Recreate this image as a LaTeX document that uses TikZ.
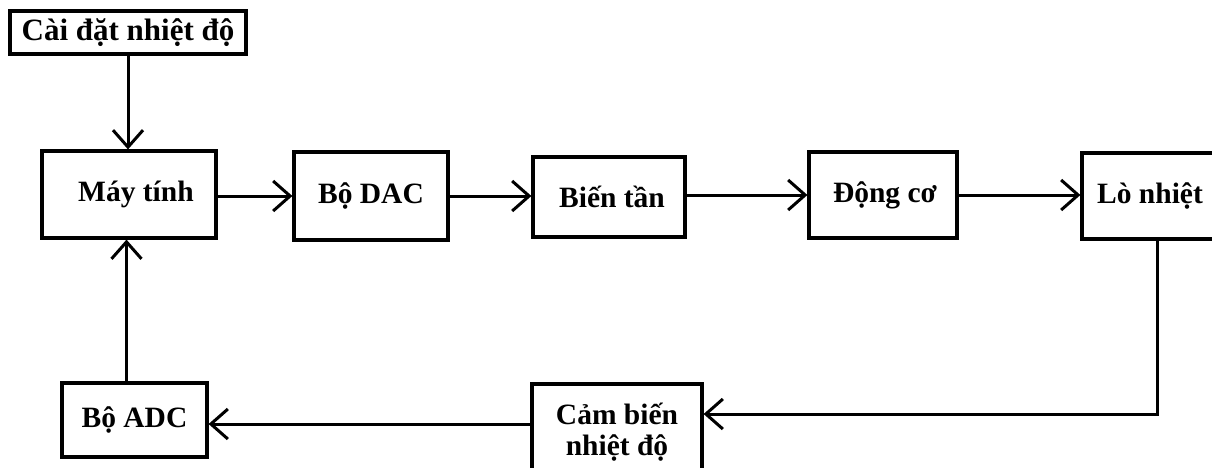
\documentclass[tikz,border=0pt]{standalone}
\usepackage{fontspec}
\setmainfont{Liberation Serif}
\usetikzlibrary{arrows.meta}
\begin{document}
\begin{tikzpicture}[x=1pt,y=-1pt,
  box/.style={draw=black, line width=3.2pt, fill=white, inner sep=0pt,
    font=\fontsize{29.5}{28}\selectfont\bfseries, align=center},
  boxtext/.style={inner sep=0pt, font=\fontsize{29.5}{28}\selectfont\bfseries, align=center},
  arr/.style={line width=3pt, -{Straight Barb[length=17pt,width=30pt,line width=3pt]}}]
\useasboundingbox (0,0) rectangle (1212,467);
\begin{scope}
\clip (0,0) rectangle (1212,467);
% setpoint input
\node[box, minimum width=236pt, minimum height=43pt,
  font=\fontsize{31}{30}\selectfont\bfseries] (set) at (128,32.5) {Cài đặt nhiệt độ};
% forward chain
\node[box, minimum width=174pt, minimum height=87pt] (mt) at (129,194.5) {\hspace*{14pt}Máy tính};
\node[box, minimum width=154pt, minimum height=88pt] (dac) at (371,196) {Bộ DAC};
\node[box, minimum width=152pt, minimum height=80pt] (bt) at (609,197) {\hspace*{6pt}Biến tần};
\node[box, minimum width=148pt, minimum height=86pt] (dc) at (883,195) {\hspace*{4pt}Động cơ};
\node[box, minimum width=136pt, minimum height=86pt] (lo) at (1150,196) {Lò nhiệt};
% feedback chain
\node[box, minimum width=170pt, minimum height=88pt,
  label={[boxtext, name=cbtext, yshift=-4pt]center:Cảm biến\\[3pt]nhiệt độ}] (cb) at (617,428) {};
\node[box, minimum width=145pt, minimum height=74pt] (adc) at (134.5,420) {Bộ ADC};
% connectors
\draw[arr] (set.south) -- (set.south |- mt.north);
\draw[arr] (mt.east |- dac.west) -- (dac.west);
\draw[arr] (dac.east) -- (dac.east -| bt.west);
\draw[arr] (bt.east |- dc.west) -- (dc.west);
\draw[arr] (dc.east) -- (dc.east -| lo.west);
\draw[arr] ([xshift=7pt]lo.south) |- ([yshift=14pt]cb.east);
\draw[arr] ([yshift=4pt]cb.west) -- ([yshift=4pt]cb.west -| adc.east);
\draw[arr] ([xshift=-8pt]adc.north) -- ([xshift=-8pt]adc.north |- mt.south);
\end{scope}
\end{tikzpicture}
\end{document}
